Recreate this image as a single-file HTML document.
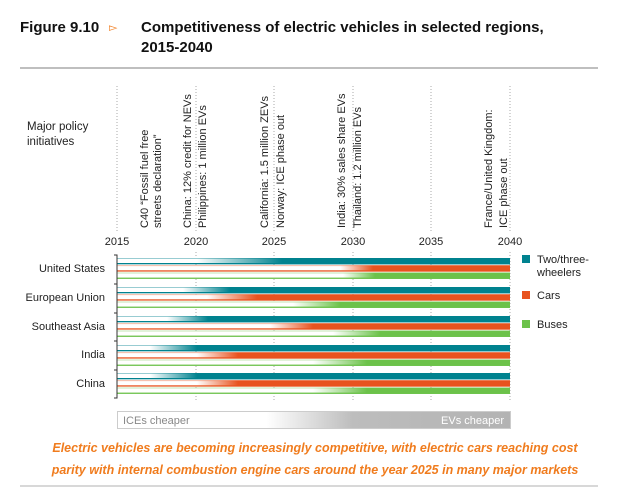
<!DOCTYPE html>
<html><head><meta charset="utf-8"><style>
body{margin:0;background:#fff;width:637px;height:491px;overflow:hidden}
svg{display:block;font-family:"Liberation Sans",sans-serif}
</style></head><body>
<svg width="637" height="491" viewBox="0 0 637 491" xmlns="http://www.w3.org/2000/svg">
<defs>
<linearGradient id="bg" x1="117" x2="510" gradientUnits="userSpaceOnUse">
<stop offset="0" stop-color="#fff"/><stop offset="0.38" stop-color="#fff"/><stop offset="0.6" stop-color="#bdbdbd"/><stop offset="1" stop-color="#b3b3b3"/></linearGradient>
</defs>
<text x="20" y="32" font-size="15" font-weight="bold" fill="#111">Figure 9.10</text>
<text x="109" y="31" font-size="11" fill="#f07c1e">▻</text>
<text x="141" y="32" font-size="15" font-weight="bold" fill="#111">Competitiveness of electric vehicles in selected regions,</text>
<text x="141" y="52" font-size="15" font-weight="bold" fill="#111">2015-2040</text>
<line x1="20" y1="68" x2="598" y2="68" stroke="#aaa" stroke-width="1.5"/>
<text x="27" y="130" font-size="11.5" fill="#222">Major policy</text>
<text x="27" y="145" font-size="11.5" fill="#222">initiatives</text>
<g stroke="#aaa" stroke-dasharray="1,2" stroke-width="1">
<line x1="117" y1="86" x2="117" y2="232"/><line x1="196" y1="86" x2="196" y2="232"/><line x1="274" y1="86" x2="274" y2="232"/><line x1="353" y1="86" x2="353" y2="232"/><line x1="431" y1="86" x2="431" y2="232"/><line x1="510" y1="86" x2="510" y2="232"/>
<line x1="196" y1="252" x2="196" y2="400"/><line x1="274" y1="252" x2="274" y2="400"/><line x1="353" y1="252" x2="353" y2="400"/><line x1="431" y1="252" x2="431" y2="400"/><line x1="510" y1="252" x2="510" y2="400"/>
</g>
<g font-size="11" fill="#222">
<text transform="translate(148,228) rotate(-90)">C40 “Fossil fuel free</text>
<text transform="translate(161,228) rotate(-90)">streets declaration”</text>
<text transform="translate(191,228) rotate(-90)">China: 12% credit for NEVs</text>
<text transform="translate(206,228) rotate(-90)">Philippines: 1 million EVs</text>
<text transform="translate(268,228) rotate(-90)">California: 1.5 million ZEVs</text>
<text transform="translate(284,228) rotate(-90)">Norway: ICE phase out</text>
<text transform="translate(345,228) rotate(-90)">India: 30% sales share EVs</text>
<text transform="translate(361,228) rotate(-90)">Thailand: 1.2 million EVs</text>
<text transform="translate(492,228) rotate(-90)">France/United Kingdom:</text>
<text transform="translate(507,228) rotate(-90)">ICE phase out</text>
</g>
<g font-size="11" fill="#222" text-anchor="middle">
<text x="117" y="245">2015</text><text x="196" y="245">2020</text><text x="274" y="245">2025</text><text x="353" y="245">2030</text><text x="431" y="245">2035</text><text x="510" y="245">2040</text>
</g>
<g id="bars"></g>
<path d="M114 255 H117 V398 H114 M114 284 H117 M114 313 H117 M114 341 H117 M114 370 H117" fill="none" stroke="#333" stroke-width="1"/>
<g font-size="11" fill="#222" text-anchor="end">
<text x="105" y="272">United States</text><text x="105" y="301">European Union</text><text x="105" y="330">Southeast Asia</text><text x="105" y="358">India</text><text x="105" y="387">China</text>
</g>
<rect x="522" y="255" width="8" height="8" fill="#00828f"/>
<rect x="522" y="291" width="8" height="8" fill="#e8531f"/>
<rect x="522" y="320" width="8" height="8" fill="#6cc24a"/>
<g font-size="11" fill="#222">
<text x="537" y="263">Two/three-</text><text x="537" y="276">wheelers</text><text x="537" y="299">Cars</text><text x="537" y="328">Buses</text>
</g>
<rect x="117.5" y="411.5" width="393" height="17" fill="url(#bg)" stroke="#ccc"/>
<text x="123" y="424" font-size="11" fill="#888">ICEs cheaper</text>
<text x="504" y="424" font-size="11" fill="#fff" text-anchor="end">EVs cheaper</text>
<g font-size="12.5" font-weight="bold" font-style="italic" fill="#f07c1e" text-anchor="middle">
<text x="315" y="452">Electric vehicles are becoming increasingly competitive, with electric cars reaching cost</text>
<text x="315" y="474">parity with internal combustion engine cars around the year 2025 in many major markets</text>
</g>
<line x1="20" y1="486" x2="598" y2="486" stroke="#ccc" stroke-width="1.5"/>
<script>
(function(){
var ns="http://www.w3.org/2000/svg",g=document.getElementById("bars"),defs=document.querySelector("defs");
var cols=["#00828f","#e8531f","#6cc24a"];
var tops=[258,287,316,345,373];
var tr=[[[197,282],[340,373],[343,375]],[[183,230],[207,257],[293,340]],[[167,208],[270,313],[333,380]],[[150,197],[197,238],[313,367]],[[150,197],[197,238],[313,367]]];
var n=0;
function el(t,a){var e=document.createElementNS(ns,t);for(var k in a)e.setAttribute(k,a[k]);return e;}
tops.forEach(function(t,i){for(var j=0;j<3;j++){var y=t+j*7.3,id="g"+(n++);
var lg=el("linearGradient",{id:id,x1:117,x2:510,gradientUnits:"userSpaceOnUse"});
var s=(tr[i][j][0]-117)/393,e=(tr[i][j][1]-117)/393;
lg.appendChild(el("stop",{offset:s,"stop-color":"#fff"}));
lg.appendChild(el("stop",{offset:e,"stop-color":cols[j]}));
defs.appendChild(lg);
g.appendChild(el("rect",{x:117,y:y,width:393,height:6.3,fill:"url(#"+id+")"}));
g.appendChild(el("rect",{x:117,y:y+5,width:393,height:1.3,fill:cols[j]}));
g.appendChild(el("rect",{x:117,y:y,width:393,height:0.8,fill:cols[j],opacity:0.5}));
}});
})();
</script>
</svg>
</body></html>
